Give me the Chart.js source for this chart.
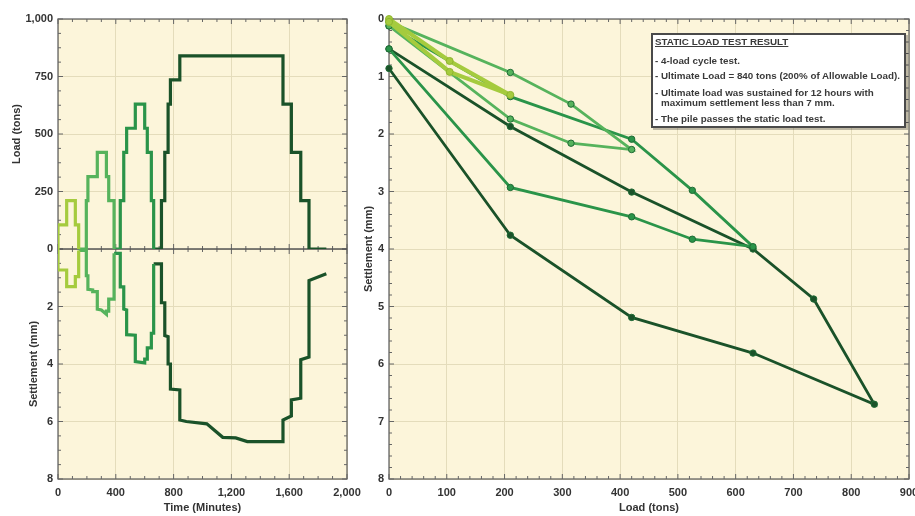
<!DOCTYPE html>
<html>
<head>
<meta charset="utf-8">
<title>Static Load Test</title>
<script src="https://cdn.jsdelivr.net/npm/chart.js@4.4.1/dist/chart.umd.min.js"></script>
<style>
  html, body { margin: 0; padding: 0; background: #fff; }
  #wrap { position: relative; width: 915px; height: 516px; overflow: hidden; }
  #wrap canvas { position: absolute; left: 0; top: 0; }
  #note {
    position: absolute; left: 651px; top: 33px; width: 255px; height: 95px;
    box-sizing: border-box; border: 2px solid #4a4a4a; background: #fff;
    box-shadow: 2px 2px 0 rgba(0, 0, 0, 0.25);
    font: bold 9.8px "Liberation Sans", Arial, sans-serif; color: #3a3a3a;
  }
  #note div { position: absolute; left: 2px; line-height: 10px; white-space: nowrap; }
  #note .head { text-decoration: underline; }
  #note .wrapped { line-height: 9.5px; }
  #note .indent { padding-left: 6px; }
</style>
</head>
<body>
<div id="wrap">
  <canvas id="timeChart" width="915" height="516"></canvas>
  <canvas id="loadChart" width="930" height="516"></canvas>
  <div id="note">
    <div class="head" style="top:2px">STATIC LOAD TEST RESULT</div>
    <div style="top:21px">- 4-load cycle test.</div>
    <div style="top:36px">- Ultimate Load = 840 tons (200% of Allowable Load).</div>
    <div class="wrapped" style="top:53px">- Ultimate load was sustained for 12 hours with<br><span class="indent">maximum settlement less than 7 mm.</span></div>
    <div style="top:79px">- The pile passes the static load test.</div>
  </div>
</div>

<script>
// ---- time history, left panel (minutes / tons / mm) ----
const cycle1LoadTime = [0, 0, 60, 60, 120, 120, 143, 143];
const cycle1LoadTons = [0, 105, 105, 210, 210, 105, 105, 0];
const cycle1SetTime = [0, 0, 60, 60, 120, 120, 143, 143];
const cycle1SetMm = [0, 0.73, 0.73, 1.31, 1.31, 0.96, 0.96, 0.05];

const cycle2LoadTime = [143, 196, 196, 207, 207, 272, 272, 335, 335, 351, 351, 388, 388];
const cycle2LoadTons = [0, 0, 210, 210, 315, 315, 420, 420, 315, 315, 210, 210, 0];
const cycle2SetTime = [143, 196, 196, 207, 207, 240, 240, 272, 272, 300, 335, 335, 351, 351, 388, 388];
const cycle2SetMm = [0.05, 0.05, 0.93, 0.93, 1.40, 1.42, 1.48, 1.48, 2.09, 2.12, 2.27, 2.16, 2.16, 1.74, 1.74, 0.15];

const cycle3LoadTime = [388, 431, 431, 455, 455, 475, 475, 535, 535, 600, 600, 618, 618, 646, 646, 662, 662];
const cycle3LoadTons = [0, 0, 210, 210, 420, 420, 525, 525, 630, 630, 525, 525, 420, 420, 210, 210, 0];
const cycle3SetTime = [388, 431, 431, 455, 455, 475, 475, 535, 535, 600, 600, 618, 618, 646, 646, 662, 662];
const cycle3SetMm = [0.15, 0.15, 1.32, 1.32, 2.09, 2.12, 2.98, 3.00, 3.92, 3.96, 3.83, 3.83, 3.44, 3.44, 2.93, 2.93, 0.52];

const cycle4LoadTime = [662, 716, 716, 739, 739, 762, 762, 778, 778, 843, 843, 1557, 1557, 1615, 1615, 1680, 1680, 1737, 1737, 1857];
const cycle4LoadTons = [0, 0, 210, 210, 420, 420, 630, 630, 735, 735, 840, 840, 630, 630, 420, 420, 210, 210, 0, 0];
const cycle4SetTime = [662, 716, 716, 739, 739, 762, 762, 778, 778, 843, 843, 888, 1030, 1140, 1230, 1310, 1557, 1557, 1615, 1615, 1680, 1680, 1737, 1737, 1857];
const cycle4SetMm = [0.52, 0.52, 1.87, 1.87, 3.01, 3.05, 4.00, 4.00, 4.87, 4.90, 5.95, 6.00, 6.08, 6.55, 6.57, 6.70, 6.70, 5.95, 5.81, 5.25, 5.19, 3.85, 3.76, 1.10, 0.86];

// ---- load vs settlement, right panel ----
const cycle1Loads = [0, 105, 210, 105, 0];
const cycle1Settle = [0, 0.73, 1.32, 0.92, 0.05];
const cycle2Loads = [0, 210, 315, 420, 315, 210, 0];
const cycle2Settle = [0.05, 0.93, 1.48, 2.27, 2.16, 1.74, 0.12];
const cycle3Loads = [0, 210, 420, 525, 630, 525, 420, 210, 0];
const cycle3Settle = [0.12, 1.35, 2.09, 2.98, 3.96, 3.83, 3.44, 2.93, 0.52];
const cycle4Loads = [0, 210, 420, 630, 735, 840, 630, 420, 210, 0];
const cycle4Settle = [0.52, 1.87, 3.01, 4.00, 4.87, 6.70, 5.81, 5.19, 3.76, 0.86];

const cycleColors = ['#a5cb3e', '#56b35c', '#2a9449', '#1a5229'];
const PLOT_BG = '#fcf5da';
const GRID = '#e4dcbb';
const FRAME = '#666';

Chart.defaults.font.family = '"Liberation Sans", Arial, sans-serif';
Chart.defaults.font.size = 11;
Chart.defaults.font.weight = 'bold';
Chart.defaults.color = '#333';

function pts(xs, ys) {
    return xs.map((x, i) => ({ x: x, y: ys[i] }));
}

// background, frame, inward tick marks and the zero line
const frameTicks = {
    id: 'frameTicks',
    beforeDraw(chart) {
        const { ctx, chartArea: a } = chart;
        ctx.save();
        ctx.fillStyle = PLOT_BG;
        ctx.fillRect(a.left, a.top, a.right - a.left, a.bottom - a.top);
        ctx.restore();
    },
    beforeDatasetsDraw(chart, args, opts) {
        const { ctx, chartArea: a, scales } = chart;
        ctx.save();
        ctx.strokeStyle = FRAME;
        ctx.lineWidth = 1;

        const each = (scale, step, major, fn) => {
            const n = Math.round((scale.max - scale.min) / step);
            for (let i = 0; i <= n; i++) {
                const v = scale.min + i * step;
                const isMajor = Math.abs(v / major - Math.round(v / major)) < 1e-6;
                fn(scale.getPixelForValue(v), isMajor ? 5 : 3);
            }
        };

        let zeroY = null;
        if (opts.zeroAxis) zeroY = scales[opts.zeroAxis].getPixelForValue(0);

        ctx.beginPath();
        each(scales.x, opts.x[0], opts.x[1], (px, len) => {
            ctx.moveTo(px, a.top); ctx.lineTo(px, a.top + len);
            ctx.moveTo(px, a.bottom); ctx.lineTo(px, a.bottom - len);
            if (zeroY !== null) { ctx.moveTo(px, zeroY - len); ctx.lineTo(px, zeroY + len); }
        });
        opts.y.forEach(([id, step, major]) => {
            each(scales[id], step, major, (py, len) => {
                ctx.moveTo(a.left, py); ctx.lineTo(a.left + len, py);
                ctx.moveTo(a.right, py); ctx.lineTo(a.right - len, py);
            });
        });
        ctx.stroke();

        ctx.lineWidth = 1.3;
        ctx.strokeRect(a.left, a.top, a.right - a.left, a.bottom - a.top);
        if (zeroY !== null) {
            ctx.lineWidth = 1.5;
            ctx.strokeStyle = '#555';
            ctx.beginPath();
            ctx.moveTo(a.left, zeroY); ctx.lineTo(a.right, zeroY);
            ctx.stroke();
        }
        ctx.restore();
    }
};

function fixWidth(w) { return scale => { scale.width = w; }; }
function fixHeight(h) { return scale => { scale.height = h; }; }

// ---- left chart: load and settlement against time ----
const timeSets = [
    [cycle1LoadTime, cycle1LoadTons, cycle1SetTime, cycle1SetMm],
    [cycle2LoadTime, cycle2LoadTons, cycle2SetTime, cycle2SetMm],
    [cycle3LoadTime, cycle3LoadTons, cycle3SetTime, cycle3SetMm],
    [cycle4LoadTime, cycle4LoadTons, cycle4SetTime, cycle4SetMm]
];
const timeDatasets = [];
timeSets.forEach((c, i) => {
    const base = {
        borderColor: cycleColors[i], borderWidth: 3.2, pointRadius: 0,
        borderJoinStyle: 'miter', fill: false, tension: 0
    };
    timeDatasets.push(Object.assign({ data: pts(c[0], c[1]), yAxisID: 'yLoad' }, base));
    timeDatasets.push(Object.assign({ data: pts(c[2], c[3]), yAxisID: 'ySet' }, base));
});

new Chart(document.getElementById('timeChart'), {
    type: 'line',
    data: { datasets: timeDatasets },
    options: {
        responsive: false,
        animation: false,
        layout: { autoPadding: false, padding: { left: 0, top: 19, right: 568, bottom: 0 } },
        plugins: {
            legend: { display: false },
            tooltip: { enabled: false },
            frameTicks: { x: [100, 400], y: [['yLoad', 62.5, 250], ['ySet', 0.5, 2]], zeroAxis: 'yLoad' }
        },
        scales: {
            x: {
                type: 'linear', min: 0, max: 2000,
                ticks: { stepSize: 400, padding: 7 },
                grid: { color: GRID, drawTicks: false },
                border: { display: false },
                title: { display: true, text: 'Time (Minutes)', padding: { top: 0, bottom: 1 } },
                afterFit: fixHeight(37)
            },
            ySet: {
                type: 'linear', position: 'left', stack: 'th', stackWeight: 1,
                min: 0, max: 8, reverse: true,
                ticks: { stepSize: 2, padding: 5, callback: v => (v === 0 ? '' : v) },
                grid: { color: GRID, drawTicks: false },
                border: { display: false },
                title: { display: true, text: 'Settlement (mm)', padding: { top: 27, bottom: 0 } },
                afterFit: fixWidth(58)
            },
            yLoad: {
                type: 'linear', position: 'left', stack: 'th', stackWeight: 1,
                min: 0, max: 1000,
                ticks: { stepSize: 250, padding: 5 },
                grid: { color: GRID, drawTicks: false },
                border: { display: false },
                title: { display: true, text: 'Load (tons)', padding: { top: 10, bottom: 0 } },
                afterFit: fixWidth(58)
            }
        }
    },
    plugins: [frameTicks]
});

// ---- right chart: settlement against load ----
const loadSets = [
    [cycle1Loads, cycle1Settle], [cycle2Loads, cycle2Settle],
    [cycle3Loads, cycle3Settle], [cycle4Loads, cycle4Settle]
];
const loadDatasets = loadSets.map((c, i) => ({
    data: pts(c[0], c[1]),
    borderColor: cycleColors[i],
    backgroundColor: cycleColors[i],
    pointBorderColor: i === 0 ? '#8fb52e' : '#1f6b35',
    borderWidth: i === 0 ? 4 : 2.8,
    pointRadius: i === 0 ? 3.5 : 3.2,
    pointBorderWidth: 1,
    tension: 0,
    fill: false,
    clip: false
}));

// canvas is 930 wide inside a 915 window, so the "900" label is cut like the original
new Chart(document.getElementById('loadChart'), {
    type: 'line',
    data: { datasets: loadDatasets },
    options: {
        responsive: false,
        animation: false,
        layout: { autoPadding: false, padding: { left: 355, top: 19, right: 21, bottom: 0 } },
        plugins: {
            legend: { display: false },
            tooltip: { enabled: false },
            frameTicks: { x: [20, 100], y: [['y', 0.2, 1]] }
        },
        scales: {
            x: {
                type: 'linear', min: 0, max: 900,
                ticks: { stepSize: 100, padding: 7 },
                grid: { color: GRID, drawTicks: false },
                border: { display: false },
                title: { display: true, text: 'Load (tons)', padding: { top: 0, bottom: 1 } },
                afterFit: fixHeight(37)
            },
            y: {
                type: 'linear', position: 'left', min: 0, max: 8, reverse: true,
                ticks: { stepSize: 1, padding: 5 },
                grid: { color: GRID, drawTicks: false },
                border: { display: false },
                title: { display: true, text: 'Settlement (mm)', padding: { top: 7, bottom: 0 } },
                afterFit: fixWidth(34)
            }
        }
    },
    plugins: [frameTicks]
});
</script>
</body>
</html>
